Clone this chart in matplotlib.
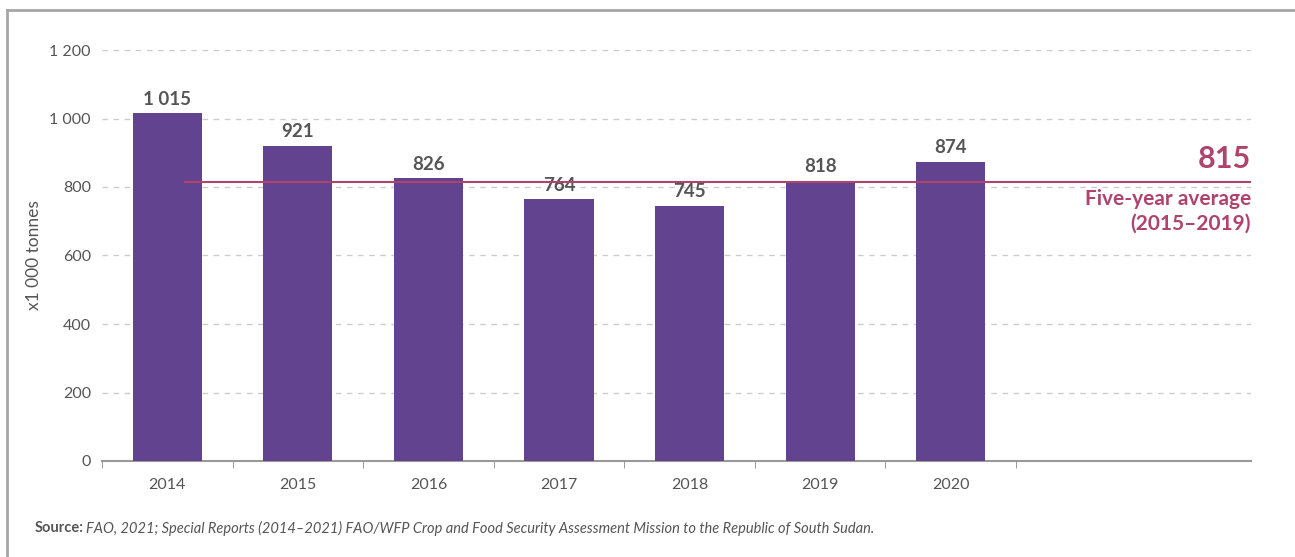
import matplotlib.pyplot as plt
from matplotlib.lines import Line2D

years = ["2014", "2015", "2016", "2017", "2018", "2019", "2020"]
production = [1015, 921, 826, 764, 745, 818, 874]
value_labels = ["1 015", "921", "826", "764", "745", "818", "874"]
five_year_avg = 815
y_ticks = [0, 200, 400, 600, 800, 1000, 1200]
y_tick_labels = ["0", "200", "400", "600", "800", "1 000", "1 200"]

BAR = "#61438f"
AVG = "#b0436e"
TEXT = "#555555"

plt.rcParams["font.family"] = ["Lato", "DejaVu Sans"]

fig = plt.figure(figsize=(12.95, 5.57), dpi=100)
ax = fig.add_axes([102 / 1295, 1 - 461 / 557, 1149 / 1295, 411 / 557])

x = list(range(len(years)))
ax.bar(x, production, width=0.53, color=BAR, zorder=3)
for xi, v, lab in zip(x, production, value_labels):
    ax.text(xi, v + 16, lab, ha="center", va="bottom", fontsize=13.5,
            fontweight="bold", color=TEXT)

ax.set_xlim(-0.5, 8.3)
ax.set_ylim(0, 1200)
ax.set_yticks(y_ticks)
ax.set_yticklabels(y_tick_labels)
ax.set_xticks(x)
ax.set_xticklabels(years)
ax.set_xticks([i - 0.5 for i in range(len(years) + 1)], minor=True)
ax.tick_params(axis="x", which="major", length=0, pad=12, labelsize=11.5, labelcolor=TEXT)
ax.tick_params(axis="x", which="minor", length=5, color="#888888")
ax.tick_params(axis="y", length=0, pad=8, labelsize=11.5, labelcolor=TEXT)

for s in ("top", "right", "left"):
    ax.spines[s].set_visible(False)
ax.spines["bottom"].set_color("#999999")
ax.spines["bottom"].set_linewidth(1.5)

for t in y_ticks[1:]:
    ax.axhline(t, color="#cccccc", lw=1, ls=(0, (4, 4)), zorder=1)

ax.axhline(five_year_avg, xmin=(0.136 + 0.5) / 8.8, xmax=1, color=AVG, lw=1.5, zorder=4)
ax.text(8.3, five_year_avg + 25, f"{five_year_avg}", ha="right", va="bottom",
        fontsize=22, fontweight="bold", color=AVG)
ax.text(8.3, five_year_avg - 20, "Five-year average\n(2015\u20132019)", ha="right",
        va="top", fontsize=15, fontweight="bold", color=AVG, linespacing=1.3)

ax.set_ylabel("x1 000 tonnes", fontsize=12.5, color=TEXT)
ax.yaxis.set_label_coords(-0.052, 0.5)

fig.text(35 / 1295, 1 - 528 / 557, "Source:", fontsize=10.5, fontweight="bold",
         color=TEXT, va="center")
fig.text(86 / 1295, 1 - 528 / 557,
         "FAO, 2021; Special Reports (2014\u20132021) FAO/WFP Crop and Food Security "
         "Assessment Mission to the Republic of South Sudan.",
         fontsize=10.5, style="italic", color=TEXT, va="center")

# grey frame on the top and left edges
fig.add_artist(Line2D([7 / 1295, 1], [1 - 10 / 557, 1 - 10 / 557],
                      transform=fig.transFigure, color="#a6a6a6", lw=2))
fig.add_artist(Line2D([7 / 1295, 7 / 1295], [0, 1 - 10 / 557],
                      transform=fig.transFigure, color="#a6a6a6", lw=2))

fig.savefig("out.png", dpi=100)
